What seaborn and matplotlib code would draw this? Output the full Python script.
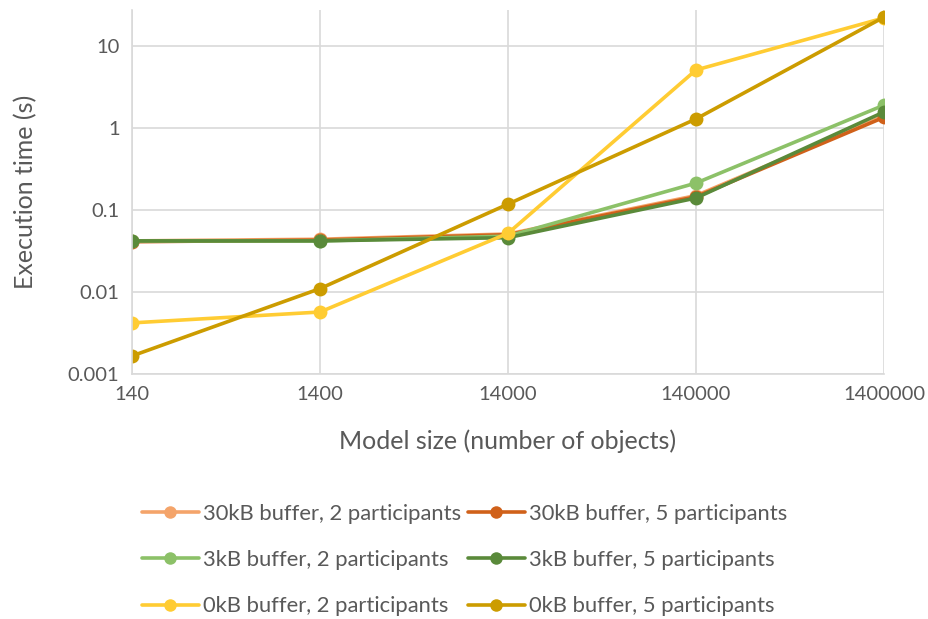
import matplotlib
matplotlib.use("Agg")
import matplotlib.pyplot as plt
import seaborn as sns
import pandas as pd
from matplotlib.ticker import FixedLocator, NullLocator, FixedFormatter

sizes = [140, 1400, 14000, 140000, 1400000]
size_labels = ["140", "1400", "14000", "140000", "1400000"]
series_names = [
    "30kB buffer, 2 participants",
    "30kB buffer, 5 participants",
    "3kB buffer, 2 participants",
    "3kB buffer, 5 participants",
    "0kB buffer, 2 participants",
    "0kB buffer, 5 participants",
]
v_30k_2 = [0.042, 0.044, 0.051, 0.15, 1.4]
v_30k_5 = [0.041, 0.043, 0.050, 0.145, 1.35]
v_3k_2 = [0.042, 0.042, 0.048, 0.213, 1.9]
v_3k_5 = [0.042, 0.042, 0.046, 0.14, 1.57]
v_0k_2 = [0.0042, 0.0057, 0.052, 5.1, 22.0]
v_0k_5 = [0.00166, 0.011, 0.118, 1.29, 22.5]
colors = ["#F4A46A", "#D0611A", "#8CC168", "#5A8A3A", "#FFCC33", "#CC9C00"]

values = [v_30k_2, v_30k_5, v_3k_2, v_3k_5, v_0k_2, v_0k_5]
rows = []
for name, vals in zip(series_names, values):
    for s, v in zip(sizes, vals):
        rows.append({"size": s, "time": v, "series": name})
df = pd.DataFrame(rows)

sns.set_theme(style="white")
plt.rcParams["font.family"] = ["Lato", "DejaVu Sans"]

fig = plt.figure(figsize=(9.29, 6.19), dpi=100)
ax = fig.add_axes([132 / 929, 1 - 374 / 619, (884 - 132) / 929, (374 - 10) / 619])

sns.lineplot(data=df, x="size", y="time", hue="series", hue_order=series_names,
             palette=colors, marker="o", markersize=10, markeredgewidth=0,
             linewidth=2.6, ax=ax, legend=True, sort=False)

ax.set_xscale("log")
ax.set_yscale("log")
ax.set_xlim(140, 1400000)
ax.set_ylim(0.001, 10 ** (1 + 36 / 82))
ax.xaxis.set_major_locator(FixedLocator(sizes))
ax.xaxis.set_major_formatter(FixedFormatter(size_labels))
ax.xaxis.set_minor_locator(NullLocator())
yt = [0.001, 0.01, 0.1, 1, 10]
ax.yaxis.set_major_locator(FixedLocator(yt))
ax.yaxis.set_major_formatter(FixedFormatter(["0.001", "0.01", "0.1", "1", "10"]))
ax.yaxis.set_minor_locator(NullLocator())
ax.grid(True, color="#D9D9D9", linewidth=1.2)
ax.set_axisbelow(True)
for sp in ["top", "right"]:
    ax.spines[sp].set_visible(False)
for sp in ["left", "bottom"]:
    ax.spines[sp].set_color("#D9D9D9")
    ax.spines[sp].set_linewidth(1.2)
ax.tick_params(axis="both", length=0, labelsize=14.5, colors="#595959", pad=9)
ax.set_xlabel("Model size (number of objects)", fontsize=18, color="#595959", labelpad=19)
ax.set_ylabel("Execution time (s)", fontsize=18, color="#595959", labelpad=22)

handles, labels = ax.get_legend_handles_labels()
order = [0, 2, 4, 1, 3, 5]
ax.legend([handles[i] for i in order], [labels[i] for i in order], ncol=2,
          loc="center", bbox_to_anchor=(0.442, -0.511), frameon=False,
          fontsize=15.8, labelcolor="#595959", handlelength=2.6, handletextpad=0.2,
          columnspacing=0.29, labelspacing=1.2, markerscale=0.9)

fig.savefig("out.png", dpi=100)
